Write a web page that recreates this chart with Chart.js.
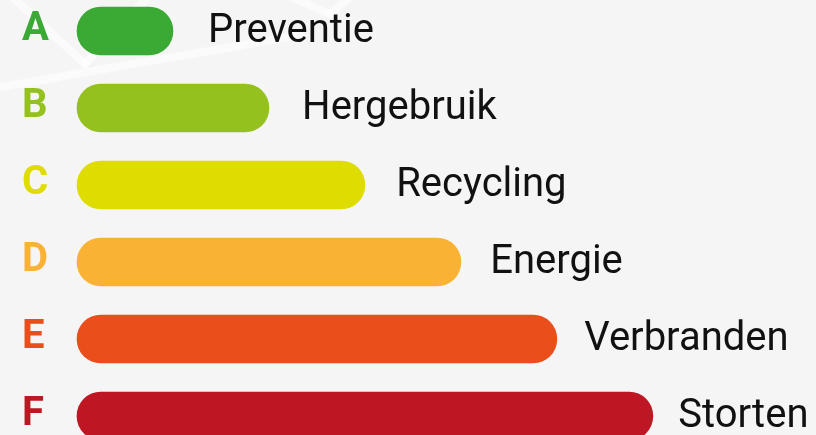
<!DOCTYPE html>
<html>
<head>
<meta charset="utf-8">
<script src="https://cdn.jsdelivr.net/npm/chart.js@4"></script>
<style>
    html, body { margin: 0; padding: 0; background: #f5f5f5; }
    #wrap { width: 816px; height: 435px; position: relative; }
</style>
</head>
<body>
<div id="wrap"><canvas id="ladderChart"></canvas></div>
<script>
// Ladder van Lansink data
const letters = ['A', 'B', 'C', 'D', 'E', 'F'];
const names = ['Preventie', 'Hergebruik', 'Recycling', 'Energie', 'Verbranden', 'Storten'];
const steps = [1, 2, 3, 4, 5, 6];
const colors = ['#3aaa35', '#95c11f', '#dedc00', '#f9b233', '#e94e1b', '#be1622'];

// Faint white lines in the background
const backdrop = {
    id: 'backdrop',
    beforeDraw(chart) {
        const ctx = chart.ctx;
        ctx.save();
        ctx.strokeStyle = 'rgba(255, 255, 255, 0.6)';
        ctx.lineWidth = 8;
        ctx.lineCap = 'round';
        const segs = [
            [10, -5, 85, 64], [150, -5, 85, 64], [-5, 88, 300, 35],
            [287, -5, 330, 14], [352, -5, 330, 14]
        ];
        segs.forEach(s => {
            ctx.beginPath();
            ctx.moveTo(s[0], s[1]);
            ctx.lineTo(s[2], s[3]);
            ctx.stroke();
        });
        ctx.restore();
    }
};

// Names written to the right of each bar
const barNames = {
    id: 'barNames',
    afterDatasetsDraw(chart) {
        const ctx = chart.ctx;
        const xs = chart.scales.x;
        ctx.save();
        ctx.font = '40px Roboto';
        ctx.fillStyle = '#111111';
        ctx.textAlign = 'left';
        ctx.textBaseline = 'middle';
        chart.getDatasetMeta(0).data.forEach((bar, i) => {
            const x = xs.getPixelForValue(steps[i] * 0.98) + 37;
            ctx.fillText(names[i], x, bar.y + 1);
        });
        ctx.restore();
    }
};

const ladderCtx = document.getElementById('ladderChart').getContext('2d');
const ladderChart = new Chart(ladderCtx, {
    type: 'bar',
    data: {
        labels: letters,
        datasets: [{
            data: steps,
            backgroundColor: colors,
            borderRadius: 24,
            borderSkipped: false,
            barThickness: 48,
            clip: false
        }]
    },
    options: {
        indexAxis: 'y',
        responsive: true,
        maintainAspectRatio: false,
        animation: false,
        layout: {
            padding: { left: 22, top: 31, right: 0, bottom: 19 }
        },
        plugins: {
            legend: { display: false },
            tooltip: { enabled: false }
        },
        scales: {
            x: {
                display: false,
                min: 0,
                max: 7.7
            },
            y: {
                offset: false,
                grid: { display: false, drawTicks: false },
                border: { display: false },
                ticks: {
                    color: ctx => colors[ctx.index],
                    font: { family: 'Roboto', weight: 'bold', size: 40, lineHeight: 0.95 },
                    crossAlign: 'far',
                    padding: 0,
                    labelOffset: -1
                },
                afterFit(scale) {
                    scale.width = 55;
                }
            }
        }
    },
    plugins: [backdrop, barNames]
});
</script>
</body>
</html>
